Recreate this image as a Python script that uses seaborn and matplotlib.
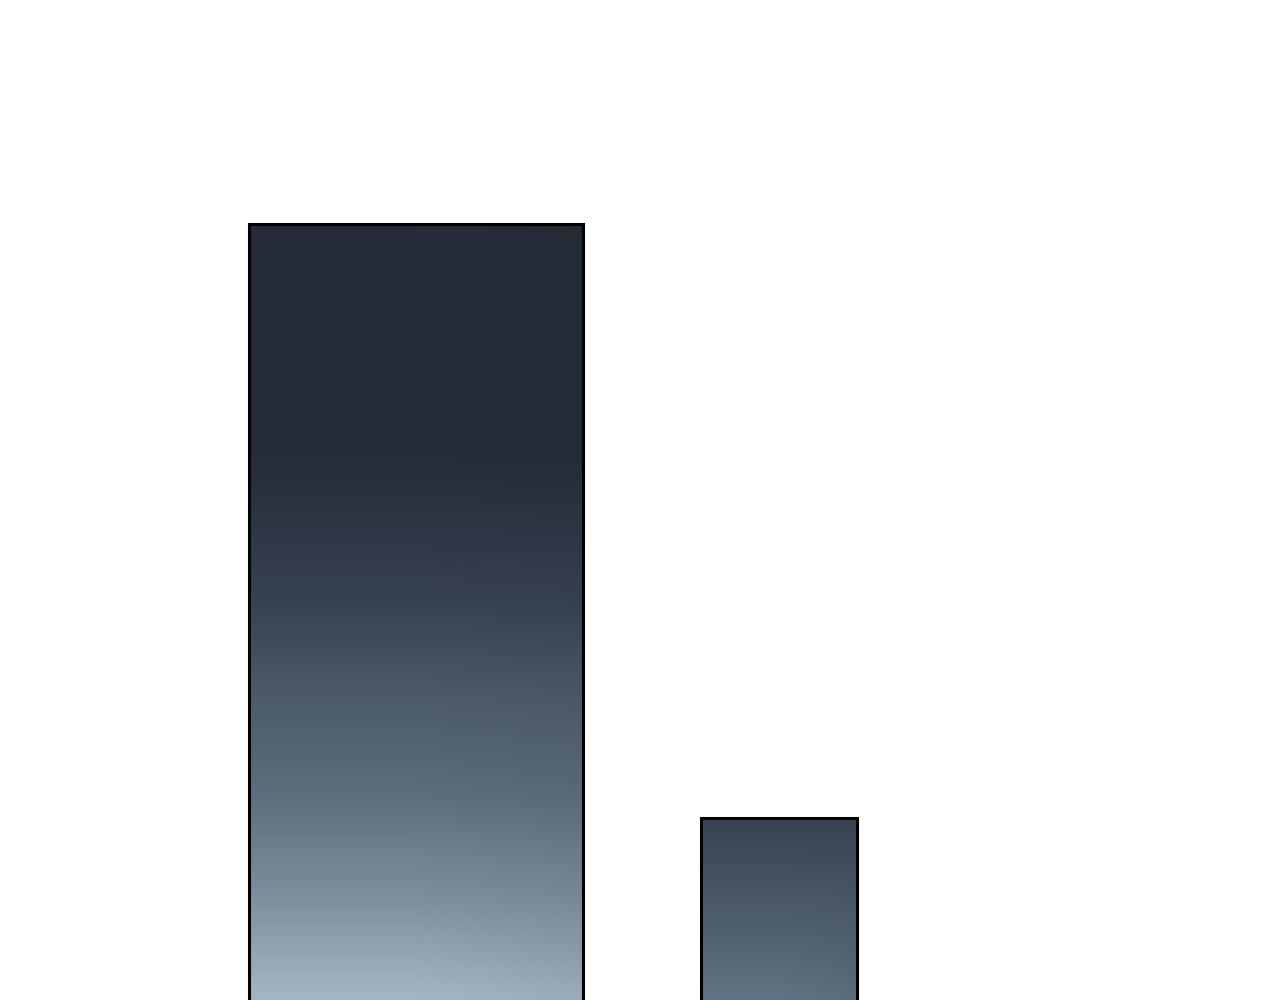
import numpy as np
import pandas as pd
import matplotlib
matplotlib.use("Agg")
import matplotlib.pyplot as plt
from matplotlib.colors import LinearSegmentedColormap, to_rgb
import seaborn as sns

# ---- data ----
categories = ["A", "B"]
values = [100, 29]

# ---- style ----
bar_widths = [0.92, 0.43]
grad_stops = [
    [(0.0, "#252b38"), (0.30, "#262c39"), (0.48, "#364150"), (0.61, "#4c5a6a"),
     (0.74, "#5e6e7e"), (0.87, "#7d8f9e"), (1.0, "#a3b7c3")],
    [(0.0, "#374252"), (0.45, "#4a5868"), (1.0, "#627385")],
]
YLIM = (7.2, 126.8)
XLIM = (-1.146, 2.38)

sns.set_theme(style="white")
fig = plt.figure(figsize=(12.8, 10), dpi=100)
ax = fig.add_axes([0, 0, 1, 1])
df = pd.DataFrame({"cat": categories, "val": values})
sns.barplot(data=df, x="cat", y="val", ax=ax, color="white", width=0.8,
            edgecolor="black", linewidth=2.2)
ax.set_xlim(*XLIM)
ax.set_ylim(*YLIM)
ax.axis("off")

for patch, w, stops in zip(ax.patches, bar_widths, grad_stops):
    cx = patch.get_x() + patch.get_width() / 2
    patch.set_x(cx - w / 2)
    patch.set_width(w)
    patch.set_facecolor("none")
    patch.set_zorder(3)
    top = patch.get_y() + patch.get_height()
    bot = YLIM[0]
    cmap = LinearSegmentedColormap.from_list("g", stops)
    n = 400
    t = np.linspace(0, 1, n)[:, None]
    xs = np.linspace(-1, 1, 100)[None, :]
    base = cmap(np.repeat(t, 100, axis=1))[..., :3]
    # slight darkening towards the right side, growing towards the bottom
    shade = 1 - 0.06 * np.clip(xs - 0.0, 0, None) * t
    img = base * shade[..., None]
    im = ax.imshow(img, extent=(cx - w / 2, cx + w / 2, bot, top), origin="upper",
                   aspect="auto", zorder=2, interpolation="bilinear")
    im.set_clip_path(patch)

ax.set_xlim(*XLIM)
ax.set_ylim(*YLIM)
fig.savefig("out.png", dpi=100, facecolor="white")
